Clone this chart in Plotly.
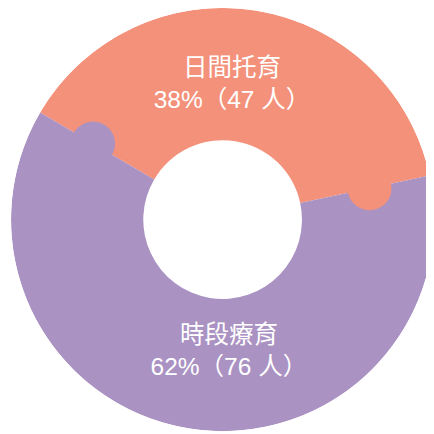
import plotly.graph_objects as go

# ---- data ----
categories = ["日間托育", "時段療育"]
counts = [47, 76]
percents = [38, 62]

# ---- style ----
colors = ["#F3917B", "#AA92C3"]
HOLE = 0.375
START_ANGLE = 149.6          # math degrees, where the first slice begins (clockwise)
CAP_SIZE = 44
LABEL_POS = [(0.633, 86.0), (0.631, 272.7)]  # (r, theta) of label text
FONT = "Liberation Sans, Noto Sans CJK TC, sans-serif"

total = sum(counts)
spans = [c / total * 360 for c in counts]
starts, ends, mids = [], [], []
a = START_ANGLE
for s in spans:
    starts.append(a)
    ends.append(a - s)
    mids.append(a - s / 2)
    a -= s

fig = go.Figure()

# donut slices
for i, cat in enumerate(categories):
    fig.add_trace(go.Barpolar(
        r=[1 - HOLE], base=[HOLE], theta=[mids[i]], width=[spans[i]],
        marker=dict(color=colors[i], line=dict(width=0)),
        name=cat, hoverinfo="skip", showlegend=False,
    ))

# rounded caps at the end of each slice
for i, cat in enumerate(categories):
    fig.add_trace(go.Scatterpolar(
        r=[0.71], theta=[ends[i]], mode="markers",
        marker=dict(size=CAP_SIZE, color=colors[i], line=dict(width=0)),
        hoverinfo="skip", showlegend=False,
    ))

# labels
for i, cat in enumerate(categories):
    r, th = LABEL_POS[i]
    fig.add_trace(go.Scatterpolar(
        r=[r], theta=[th], mode="text",
        text=[f"{cat}<br>{percents[i]}%（{counts[i]} 人）"],
        textposition="middle center",
        textfont=dict(color="white", size=24.5, family=FONT),
        hoverinfo="skip", showlegend=False,
    ))

fig.update_layout(
    width=434, height=434,
    margin=dict(l=0, r=0, t=0, b=0),
    paper_bgcolor="white",
    polar=dict(
        domain=dict(x=[0.007, 0.982], y=[0.025, 1]),
        bgcolor="rgba(0,0,0,0)",
        bargap=0,
        radialaxis=dict(range=[0, 1], visible=False),
        angularaxis=dict(visible=False, direction="counterclockwise", rotation=0),
    ),
)

fig.write_html("out.html")
